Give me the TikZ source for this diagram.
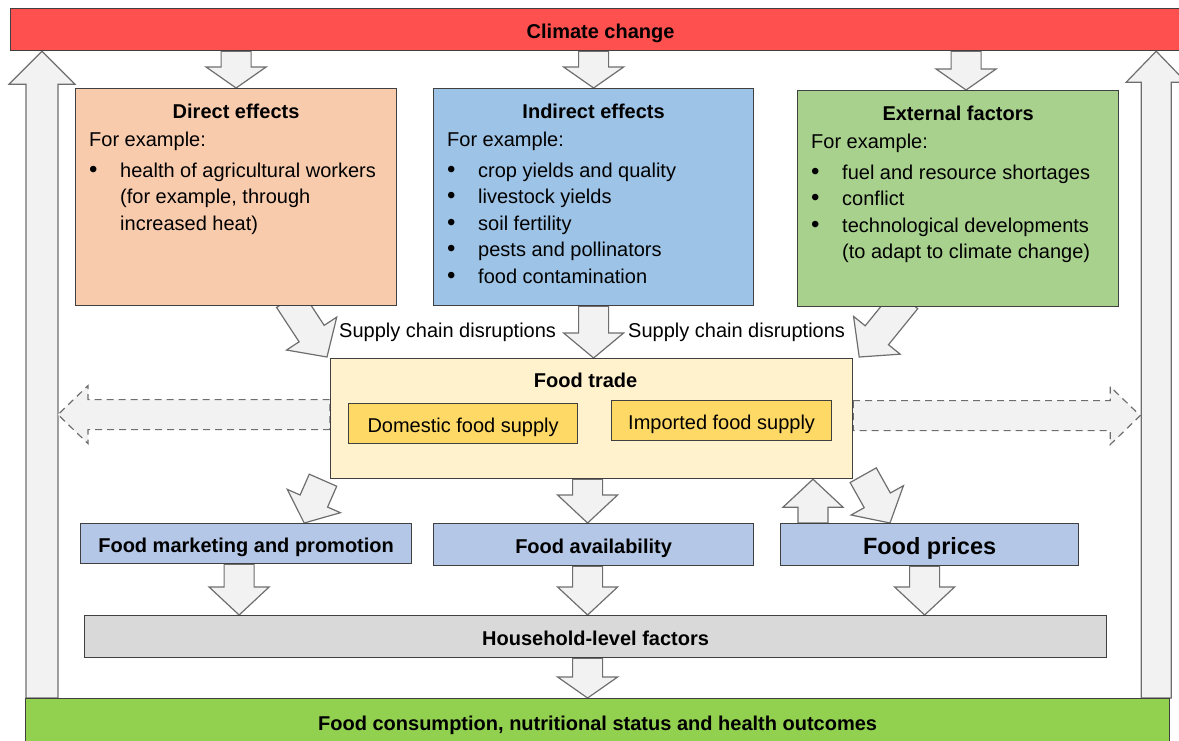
\documentclass[tikz,border=0pt]{standalone}
\usepackage{fontspec}
\setmainfont{Liberation Sans}
\usetikzlibrary{calc, backgrounds}

\definecolor{climred}{HTML}{FF5050}
\definecolor{peach}{HTML}{F8CBAD}
\definecolor{skyblue}{HTML}{9DC3E6}
\definecolor{leafgreen}{HTML}{A9D18E}
\definecolor{cream}{HTML}{FFF2CC}
\definecolor{gold}{HTML}{FFD966}
\definecolor{paleblue}{HTML}{B4C7E7}
\definecolor{lightgrey}{HTML}{D9D9D9}
\definecolor{limegreen}{HTML}{92D050}
\definecolor{arrowfill}{HTML}{F2F2F2}
\definecolor{arrowline}{HTML}{6E6E6E}
\definecolor{boxline}{HTML}{404040}

% bullet lists inside the effect boxes
\newcommand{\bitem}[1]{\hbox{\makebox[31pt][l]{\fontsize{24}{24}\selectfont\textbullet}#1}}
\newcommand{\bmore}[1]{\hbox{\hspace*{31pt}#1}}
\newcommand{\blist}[1]{\vtop{\baselineskip=26.6pt #1}}

\begin{document}
\begin{tikzpicture}[
  x=1pt, y=-1pt,
  font=\fontsize{20}{26.6}\selectfont,
  box/.style={draw=boxline, line width=1.2pt, inner sep=0pt, anchor=north west},
  lbl/.style={text height=17pt, text depth=0pt},
  bar/.style={box, lbl, font=\fontsize{20}{24}\selectfont\bfseries},
  head/.style={anchor=base, inner sep=0pt, font=\fontsize{20}{24}\selectfont\bfseries},
  txt/.style={anchor=base west, inner sep=0pt},
  fat w/.store in=\fatw, fat w=15pt,
  fat head/.store in=\fatW, fat head=30pt,
  fat len/.store in=\fatlen, fat len=28pt,
  fat/.style={draw=arrowline, fill=arrowfill, line width=1.2pt, line join=miter,
    to path={(\tikztostart) coordinate (fs) (\tikztotarget) coordinate (ft)
      ($(ft)!\fatlen!(fs)$) coordinate (fh)
      ($(fs)!\fatw!90:(ft)$) -- ($(fh)!\fatw!90:(ft)$) -- ($(fh)!\fatW!90:(ft)$)
      -- (ft)
      -- ($(fh)!\fatW!-90:(ft)$) -- ($(fh)!\fatw!-90:(ft)$) -- ($(fs)!\fatw!-90:(ft)$)
      -- cycle}},
  ghost/.style={fat, dash pattern=on 7pt off 5pt, fat head=29pt, fat len=30pt}
]
\useasboundingbox (0,0) rectangle (1179,740);
\clip (0,0) rectangle (1179,740);

% top and bottom bars
\node[bar, fill=climred, minimum width=1180, minimum height=42] (clim) at (10,8) {Climate change};
\node[bar, fill=limegreen, minimum width=1144, minimum height=46] (outcome) at (25,698) {Food consumption, nutritional status and health outcomes};

% effect boxes
\node[box, fill=peach, minimum width=321, minimum height=217] (direct) at (75,88) {};
\node[box, fill=skyblue, minimum width=320, minimum height=217] (indir) at (433,88) {};
\node[box, fill=leafgreen, minimum width=321, minimum height=216] (ext) at (797,90) {};

\node[head] (direct-h) at ($(direct.north)+(0,30)$) {Direct effects};
\node[txt] (direct-e) at ($(direct.north west)+(14,58)$) {For example:};
\node[txt] (direct-l) at ($(direct.north west)+(14,89)$) {\blist{%
  \bitem{health of agricultural workers}
  \bmore{(for example, through}
  \bmore{increased heat)}}};

\node[head] (indir-h) at ($(indir.north)+(0,30)$) {Indirect effects};
\node[txt] (indir-e) at ($(indir.north west)+(14,58)$) {For example:};
\node[txt] (indir-l) at ($(indir.north west)+(14,89)$) {\blist{%
  \bitem{crop yields and quality}
  \bitem{livestock yields}
  \bitem{soil fertility}
  \bitem{pests and pollinators}
  \bitem{food contamination}}};

\node[head] (ext-h) at ($(ext.north)+(0,30)$) {External factors};
\node[txt] (ext-e) at ($(ext.north west)+(14,58)$) {For example:};
\node[txt] (ext-l) at ($(ext.north west)+(14,89)$) {\blist{%
  \bitem{fuel and resource shortages}
  \bitem{conflict}
  \bitem{technological developments}
  \bmore{(to adapt to climate change)}}};

\node[txt] (supply-l) at (339,337) {Supply chain disruptions};
\node[txt] (supply-r) at (628,337) {Supply chain disruptions};

% food trade
\node[box, fill=cream, minimum width=522, minimum height=120] (trade) at (330,358) {};
\node[head] (trade-h) at ($(trade.north)+(-6,29)$) {Food trade};
\node[box, lbl, fill=gold, minimum width=229, minimum height=40] (home) at (348,403) {Domestic food supply};
\node[box, lbl, fill=gold, minimum width=220, minimum height=40] (import) at (611,400) {Imported food supply};

% second row
\node[bar, fill=paleblue, minimum width=331, minimum height=40] (mkt) at (80,523) {Food marketing and promotion};
\node[bar, fill=paleblue, minimum width=320, minimum height=42] (avail) at (433,523) {Food availability};
\node[bar, fill=paleblue, minimum width=298, minimum height=42, text height=19.5pt,
  font=\fontsize{23.5}{28}\selectfont\bfseries] (price) at (780,523) {Food prices};
\node[bar, fill=lightgrey, minimum width=1022, minimum height=42] (house) at (84,615) {Household-level factors};

\coordinate (lrise) at ($(outcome.north west)+(17,0)$);
\coordinate (rrise) at ($(outcome.north east)+(-14,0)$);
\coordinate (extin) at ($(ext.north)+(8,0)$);
\coordinate (tradel) at ($(trade.west)+(0,-4)$);
\coordinate (trader) at ($(trade.east)+(0,-3)$);
\coordinate (spine) at ($(avail.south)+(-6,0)$);
\coordinate (pup) at ($(price.north west)+(33,0)$);
\coordinate (mktout) at ($(mkt.south)+(-7,0)$);
\coordinate (priceout) at ($(price.south)+(-5,0)$);

% Arrows
\begin{scope}[on background layer]
  \clip (0,0) rectangle (1179,740);
  \draw[fat, fat w=16pt, fat head=33pt, fat len=33pt] (lrise) to (lrise |- clim.south);
  \draw[fat, fat w=15pt, fat head=30pt, fat len=31pt] (rrise) to (rrise |- clim.south);

  \draw[fat, fat len=21pt] (direct.north |- clim.south) to (direct.north);
  \draw[fat, fat len=21pt] (indir.north |- clim.south) to (indir.north);
  \draw[fat, fat len=21pt] (extin |- clim.south) to (extin);

  \draw[fat] ($(direct.south)+(53,-7)$) to ($(trade.north west)+(-3,-1)$);
  \draw[fat, fat len=25pt] (indir.south) to (indir.south |- trade.north);
  \draw[fat] ($(ext.south)+(-52,-8)$) to ($(trade.north east)+(6,-1)$);

  \draw[ghost] (tradel) to ($(tradel -| lrise)+(16,0)$);
  \draw[ghost] (trader) to ($(trader -| rrise)+(-16,0)$);

  \draw[fat, fat len=24pt, fat head=29pt] ($(trade.south west)+(-7,1)$) to ($(mkt.north east)+(-108,0)$);
  \draw[fat] (spine |- trade.south) to (spine |- avail.north);
  \draw[fat] (pup) to (pup |- trade.south);
  \draw[fat, fat len=26pt] ($(trade.south east)+(10,-4)$) to ($(price.north west)+(110,0)$);

  \draw[fat] (mktout) to (mktout |- house.north);
  \draw[fat] (spine) to (spine |- house.north);
  \draw[fat] (priceout) to (priceout |- house.north);
  \draw[fat, fat len=21pt] (spine |- house.south) to (spine |- outcome.north);
\end{scope}

\end{tikzpicture}
\end{document}
